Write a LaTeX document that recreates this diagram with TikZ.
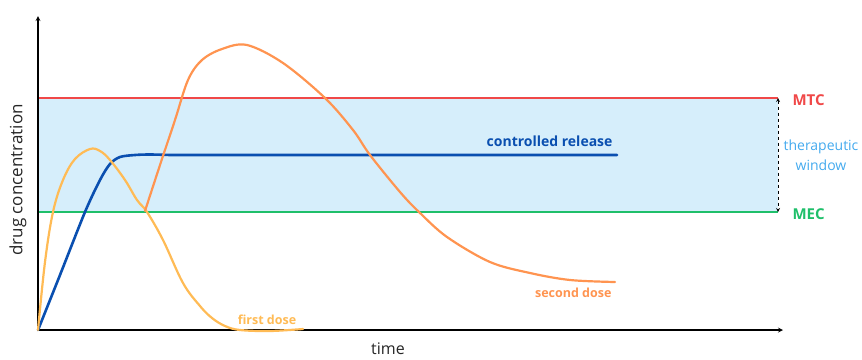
\documentclass[tikz,border=0pt]{standalone}
\usepackage{fontspec}
\setmainfont{Open Sans}
\usetikzlibrary{arrows, positioning, calc}
\definecolor{mtcred}{HTML}{F04848}
\definecolor{mecgreen}{HTML}{1FBF6A}
\definecolor{windowfill}{HTML}{D6EEFB}
\definecolor{windowtext}{HTML}{44AAEE}
\definecolor{crblue}{HTML}{0A4FB0}
\definecolor{firstyellow}{HTML}{FFBB55}
\definecolor{secondorange}{HTML}{FF9450}
\tikzset{
	axis-style/.style = {line width=1.2pt, ->, >=stealth},
	limit-style/.style = {line width=1.8pt},
	curve-style/.style = {line width=2.2pt, line cap=round, line join=round},
	limit-label/.style = {font=\fontsize{15}{17}\selectfont\bfseries, anchor=west},
	curve-label/.style = {font=\fontsize{12.5}{14}\selectfont\bfseries},
	axis-label/.style = {font=\fontsize{17}{20}\selectfont, text=black!85},
}
\begin{document}
\begin{tikzpicture}[x=1pt, y=-1pt]
	\useasboundingbox (0,0) rectangle (862,359);
	% therapeutic window
	\fill[windowfill] (38,98) rectangle (778,212);
	\coordinate (mtc-l) at (38,98);
	\coordinate (mtc-r) at (778,98);
	\coordinate (mec-l) at (38,212);
	\coordinate (mec-r) at (778,212);
	\draw[limit-style, mtcred] (mtc-l) -- (mtc-r);
	\draw[limit-style, mecgreen] (mec-l) -- (mec-r);
	\draw[thick, dashed, <->, >=stealth] (mtc-r) -- (mec-r);
	\node (mtc) [limit-label, text=mtcred] at (789,100) {MTC};
	\node (mec) [limit-label, text=mecgreen] at (789,214) {MEC};
	\node (window) [align=center, font=\fontsize{14}{20}\selectfont, text=windowtext] at (821,155) {therapeutic\\window};
	% axes
	\coordinate (origin) at (38,330);
	\coordinate (y-end) at (38,16);
	\coordinate (x-end) at (783,330);
	\draw[axis-style] (origin) -- (y-end);
	\draw[axis-style] (origin) -- (x-end);
	\node (conc) [axis-label, rotate=90] at (18,180) {drug concentration};
	\node (time) [axis-label, font=\fontsize{16}{18}\selectfont, inner sep=1pt] at (388,349) {time};
	% controlled release
	\draw[curve-style, line width=2.6pt, crblue] plot[smooth, tension=0.5] coordinates {
		(38,330) (60,275) (85,212) (100,180) (110,164) (120,157) (135,155) (150,154.5) (170,155)}
		-- (617,155);
	\node (cr) [curve-label, font=\fontsize{14}{16}\selectfont\bfseries, text=crblue, anchor=south east] at (616,150) {controlled release};
	% first dose
	\draw[curve-style, firstyellow] plot[smooth, tension=0.6] coordinates {
		(38,330) (45,262) (53,212) (63,180) (75,159) (90,149) (100,151) (110,160) (125,180) (137,200) (147,212)
		(163,240) (183,283) (200,306) (212,318) (225,326) (240,330) (270,331) (303,329)};
	\node (first) [curve-label, text=firstyellow] at (267,320) {first dose};
	% second dose
	\draw[curve-style, secondorange] plot[smooth, tension=0.55] coordinates {
		(145,211) (160,165) (175,120) (188,80) (202,60) (222,49) (247,45) (283,63) (325,98) (353,130)
		(370,155) (400,192) (419,212) (447,237) (490,262) (530,273) (570,280) (615,282)};
	\node (second) [curve-label, text=secondorange, anchor=east] at (615,293) {second dose};
\end{tikzpicture}
\end{document}
